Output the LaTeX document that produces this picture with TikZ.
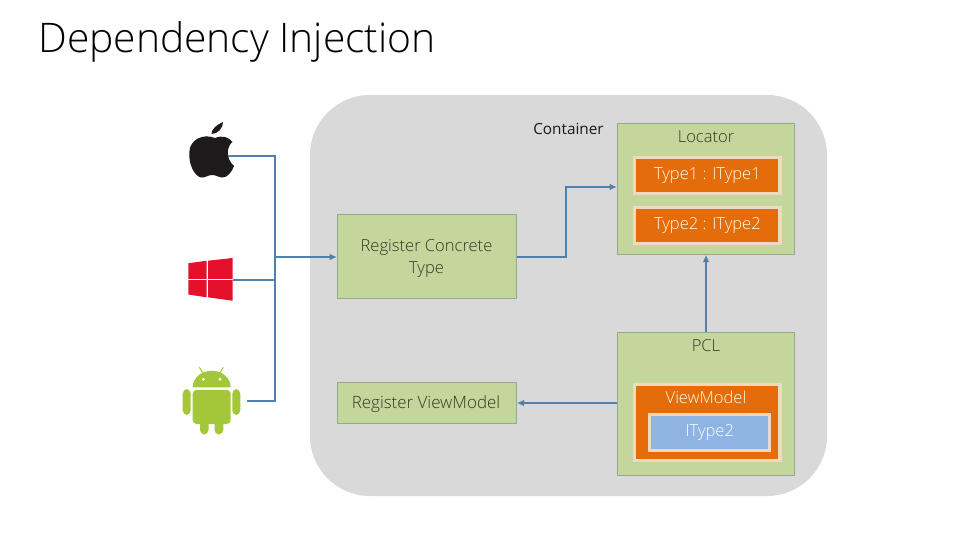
\documentclass[tikz,border=0pt]{standalone}
\usepackage{fontspec}
\setmainfont{Open Sans}[UprightFont=* Light]
\newfontfamily\contfont{Open Sans}
\usetikzlibrary{arrows.meta}
\definecolor{panel}{HTML}{D9D9D9}
\definecolor{leaf}{HTML}{C3D69B}
\definecolor{leafline}{HTML}{98A88C}
\definecolor{rust}{HTML}{E46C0A}
\definecolor{rustline}{HTML}{EFD9C3}
\definecolor{sky}{HTML}{8EB4E3}
\definecolor{wire}{HTML}{4F81AD}
\definecolor{droid}{HTML}{A4C639}
\definecolor{winred}{HTML}{E3122A}
\definecolor{ink}{HTML}{2F3A25}
\definecolor{applec}{HTML}{1E1A1B}
\tikzstyle{box} = [rectangle, draw=leafline, fill=leaf, line width=0.8pt, anchor=north west, inner sep=0pt]
\tikzstyle{lbl} = [text=ink, font=\fontsize{12.4}{16.5}\selectfont, align=center, inner sep=0pt]
\tikzstyle{inner} = [rectangle, draw=rustline, fill=rust, line width=2.6pt, text=white!90!yellow, font=\fontsize{12.4}{16}\selectfont, anchor=north west, inner sep=0pt]
\tikzstyle{inner2} = [inner, fill=sky, text=white]
\tikzstyle{link} = [draw=wire, line width=1.5pt]
\tikzstyle{linka} = [link, -{Latex[length=5.5pt,width=5pt]}]
\begin{document}
\begin{tikzpicture}[x=0.75pt,y=-0.75pt]
\useasboundingbox (0,0) rectangle (960,540);

\node (title) [anchor=base west, font=\fontsize{30.6}{36}\selectfont, text=black, inner sep=0pt] at (38,52) {Dependency Injection};

% container
\fill[panel, rounded corners=45pt] (310,95) rectangle (827,496);
\node (contlabel) [font=\fontsize{11.5}{14}\selectfont\contfont, text=black!90, inner sep=0pt] at (568.5,129) {Container};

% boxes
\node (concrete) [box, minimum width=134pt, minimum height=63pt] at (337,214) {};
\node (concretetext) [lbl] at (426.5,258) {Register Concrete\\Type};
\node (regvm) [box, minimum width=134pt, minimum height=31pt] at (337,382) {};
\node (regvmtext) [lbl, font=\fontsize{12.7}{16.5}\selectfont] at (426,404) {Register ViewModel};
\node (locator) [box, minimum width=133pt, minimum height=98pt] at (617,123) {};
\node (loctext) [lbl] at (706,137) {Locator};
\node (type1) [inner, minimum width=109pt, minimum height=27pt] at (633,155.5) {Type1 : IType1};
\node (type2) [inner, minimum width=109pt, minimum height=27pt, text depth=2.5pt] at (633,205.5) {Type2 : IType2};
\node (pcl) [box, minimum width=133pt, minimum height=107pt] at (617,332) {};
\node (pcltext) [lbl] at (706,346) {PCL};
\node (vm) [inner, minimum width=109pt, minimum height=57pt] at (633,382.5) {};
\node (vmtext) [lbl, text=white!90!yellow] at (706,397.5) {ViewModel};
\node (itype) [inner2, minimum width=90pt, minimum height=27pt] at (648,412.5) {IType2};

% apple
\fill[applec] (215,138) .. controls (222,135) and (229,137) .. (232.5,142)
  .. controls (227,146) and (225,158) .. (234,166)
  .. controls (232,172) and (227,178) .. (222,177.5)
  .. controls (218,177) and (216,175) .. (212,175)
  .. controls (208,175) and (205,178) .. (201,177.5)
  .. controls (194,176) and (188,163) .. (189.5,151)
  .. controls (190,140) and (203,133) .. (215,138) -- cycle;
\fill[applec] (211.5,134) .. controls (211,129) and (218,124) .. (223,122)
  .. controls (223,128) and (218,134) .. (211.5,134) -- cycle;

% windows
\fill[winred] (188.3,263.3) -- (206.7,260.7) -- (206.7,278.8) -- (188.3,278.8) -- cycle;
\fill[winred] (208,260.7) -- (232.7,258) -- (232.7,278.8) -- (208,278.8) -- cycle;
\fill[winred] (188.3,280.2) -- (206.7,280.2) -- (206.7,297.3) -- (188.3,294.5) -- cycle;
\fill[winred] (208,280.2) -- (232.7,280.2) -- (232.7,300.7) -- (208,297.3) -- cycle;

% android
\fill[droid] (192.7,387.3) arc[start angle=180, end angle=360, x radius=19, y radius=16.6] -- cycle;
\fill[droid, rounded corners=3pt] (192.7,389.8) -- (230.7,389.8) -- (230.7,424) -- (192.7,424) -- cycle;
\fill[droid, rounded corners=3.5pt] (182.7,389) rectangle (190.7,415);
\fill[droid, rounded corners=3.5pt] (232.3,389) rectangle (240.3,415);
\fill[droid, rounded corners=3.5pt] (200,415) rectangle (208.5,434.5);
\fill[droid, rounded corners=3.5pt] (214.5,415) rectangle (223.3,434.5);
\draw[droid, line width=0.8pt] (202.7,372.7) -- (199.3,367.3) (220,372.7) -- (223.3,367.3);
\fill[white] (203.3,379.3) circle (1.6) (220,379.3) circle (1.6);

% wires
\coordinate (applept) at (228,156);
\coordinate (winpt) at (233,280);
\coordinate (droidpt) at (247,401);
\coordinate (bustop) at (275,156);
\coordinate (busmid) at (275,257);
\coordinate (buswin) at (275,280);
\coordinate (busbot) at (275,401);
\draw[link] (applept) -- (bustop) -- (busbot) -- (droidpt);
\draw[link] (winpt) -- (buswin);
\draw[linka] (busmid) -- (concrete.west |- busmid);
\draw[linka] (concrete.east |- busmid) -- (566,257) -- (566,187) -- (locator.west |- 566,187);
\draw[linka] (pcl.north -| 706,0) -- (locator.south -| 706,0);
\draw[linka] (pcl.west |- 0,403) -- (regvm.east |- 0,403);

\end{tikzpicture}
\end{document}
